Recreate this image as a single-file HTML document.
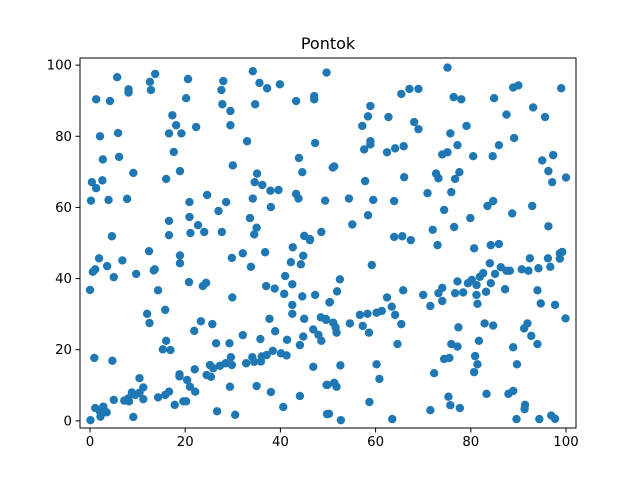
<!DOCTYPE html>
<html><head><meta charset="utf-8"><style>
body{margin:0;background:#fff;}
svg{display:block;font-family:"DejaVu Sans","Liberation Sans",sans-serif;}
</style></head><body>
<svg id="chart" width="640" height="480" xmlns="http://www.w3.org/2000/svg">
<rect width="640" height="480" fill="#fff"/>
<text x="328" y="49" font-size="16" text-anchor="middle" fill="#000">Pontok</text>
<g id="ticks"></g>
<g id="points"></g>
<rect x="80" y="58" width="496" height="370" fill="none" stroke="#000" stroke-width="1"/>
</svg>
<script>
const xTicks=[0,20,40,60,80,100];
const yTicks=[0,20,40,60,80,100];
const xs=[5.7,1.3,4.2,8.1,8.1,13.7,12.6,12.8,20.6,20.2,28,27.6,27.8,29.5,29.5,34.2,35.6,37.2,39.9,34.7,43.3,47.1,47.1,49.7,17.3,18.1,16.6,19.2,22.3,2.1,5.9,33,47.3,2.7,6.1,17.6,30,43.9,44.6,9.1,18.9,16,0.4,2.6,1.3,35.1,34.6,36.2,37.9,39.6,43.3,43.8,49.4,0.2,3.9,7.8,20.9,24.6,28.6,27,34.2,38,33.6,20.9,16.6,22.7,24,21.1,16.6,4.6,27.7,35,34.5,45,46.2,48.6,
75.1,65.4,67.1,69,76.4,78,84.9,88.9,90,99,58.9,58.4,57.2,62.7,68.1,69,79.1,75.7,87.5,93.1,95.6,89.1,58.9,58.9,57.6,62.4,64.1,65.9,77.2,74,75.1,80.5,84.6,85.9,95,97.3,96.3,97.1,100,51,51.3,57.8,66,72.7,73.2,77.6,76.7,70.9,75.9,54.4,59.5,63.9,84.7,83.5,92.9,74.4,88.7,55.1,58.4,79.9,76.5,72,96.3,63.9,65.6,67.4,
1.9,1.1,0.6,3.6,6.8,5,0,12.4,9.7,13.4,13.6,14.3,18.9,18.9,20.8,23.7,24.4,29.8,32.1,33.8,36.8,42.6,44.8,42.2,44.3,46.2,41,42.5,37,38.8,40.8,44.6,47.3,50.3,42.5,42.5,29.9,12,12.5,15.8,23.3,21.9,25.7,37.7,38.9,32.1,35.8,41.4,26.5,29.3,45,48.5,49.6,46.9,48,48.6,44.8,44.1,16,15.3,16.9,0.9,4.7,22,18.8,18.8,20.4,21,22.1,25.2,25.9,27.3,28.5,29.6,29.8,24.5,25.4,32.8,34.1,34.5,36.1,37.1,38.4,40.1,41.3,35.9,46.9,49.7,49.8,29.4,35,38,44.1,40.6,30.5,26.7,10.4,5,7.2,8,8.2,8.8,9.5,11.2,11.2,10.4,14.3,15.8,16.6,17.8,19.6,20.2,9.1,1.1,2.8,2.1,3.5,2.2,0.1,
73,80.7,84.2,85.9,59.2,52.5,51.9,50.4,49.6,51.1,51.6,51.8,54.6,56.7,58.3,57.3,58.6,60.2,61.3,62.4,63.4,64.1,65.4,65.8,64.6,70,71.5,73.2,74,74,76.7,77.2,78.4,79.4,80.2,81.2,81.9,82.6,81.2,81.4,83.2,84.2,84,85.1,86.3,87.5,88.2,87.2,90.7,92.4,92.1,94.2,96.2,96.7,98.7,99.2,98.7,94,94.7,97.7,99.9,77.4,82.9,84.7,91.2,91.9,92.7,94,88.9,81.7,75.9,77.2,74.4,75.5,80.9,81.4,80.7,72.3,89.7,52.6,60.2,60.8,49.9,51.3,51.8,58.7,50.2,52.7,63.5,71.5,75.3,75.7,77.7,83.3,87.9,88.9,91.4,91.3,89.6,94.4,96.9,97.7];
const ys=[96.6,90.4,89.9,93.2,92.3,97.5,95.3,93,96.1,90.7,95.5,93,89,87.1,83.1,98.3,95,93.5,94.6,89,89.9,91.3,90.4,97.9,85.9,83.1,80.8,80.8,82.6,80,80.9,78.6,78.1,73.5,74.2,75.6,71.8,73.9,69.9,69.7,70.2,68,67.1,67.6,65.4,69.5,67.1,66.3,64.7,64.9,63.8,62.5,61.9,61.9,62.1,62.4,61.5,63.5,61.5,59,62.5,60.1,57,57.3,56.2,55,53.1,52.8,52.2,51.9,53.1,54.3,52.4,52,51.1,53.1,
99.3,91.9,93.3,93.3,91,90.4,90.7,93.7,94.3,93.5,88.5,85.6,82.9,85.4,84,82,82.9,80.8,86.1,88.1,85.4,79.5,78.6,77.7,76.3,75.5,76.6,77.2,77.5,74.9,75.5,74.4,74.4,77.5,73.2,74.7,70.2,67.1,68.4,71.2,71.5,67.4,68.5,69.5,68.2,69.9,68,64,64.3,62.5,62.1,61.8,61.8,60.4,60.4,59.3,58.3,55.2,57.8,57,54.5,53.7,54.7,51.7,51.9,50.8,
45.7,42.6,41.9,43.5,45.1,40.4,36.8,47.7,41.3,42.3,42.6,36.7,46.5,44.3,39,37.9,38.8,45.8,47.1,43.3,47.4,48.8,46.4,44.6,44,50.8,40.7,38.4,37.9,37.2,35.7,35,35.4,33.3,32.6,30.1,34.7,30.1,27.5,31.2,28,25.3,27.2,28.7,25.2,24.1,23,22.8,21.8,21.8,28.7,29.1,28.4,25.7,24.2,22.5,23.7,21.3,22.5,20.1,19.9,17.7,16.9,14.5,13.1,12.5,11.5,9.6,8.2,15.7,14.8,15.5,16.2,17.9,15.7,12.9,12.4,16.2,17.9,16.6,18.1,18.5,19.7,19,18.4,16.7,15.2,10.1,1.9,9.6,9.8,8.1,7,3.9,1.7,2.7,12,5.9,5.7,6.3,5.5,8,7.3,9.4,6.1,7.9,6.6,7.3,8.2,4.5,5.5,5.5,1.1,3.6,4,2.6,2.4,1.2,0.2,
49.4,48.5,49.4,49.7,43.8,39.8,36.4,33.4,28.6,27.6,26.3,24.8,27.4,29.8,30.1,26.7,24.8,30.4,30.9,34.7,32.1,29.8,27.2,36.7,21.6,35.4,32.3,35.9,37.4,33.7,35.9,39.2,36.1,38.7,39.6,38.2,40.5,41.5,35.4,32.9,36.3,38.7,44.3,41.3,43.2,42.2,42.2,37,42.6,45.7,42.2,42.9,45.7,43.3,47.1,47.5,45.6,36.7,33,32.6,28.8,26.3,27.4,26.8,26,27.4,23.9,21.6,20.7,22.5,21.6,20.9,17.4,17.7,18.2,15.9,13.7,13.4,15.9,15.6,15.9,11.8,10.1,10.7,9.6,5.3,2,0.2,0.5,3,6.8,4.4,3.6,7.6,7.6,8.4,4.5,3.3,0.5,0.5,1.5,0.6];
const X0=80,X1=576,Y0=428,Y1=58,XMIN=-2.1,XMAX=102.1,YMIN=-2,YMAX=102;
function sx(v){return X0+(v-XMIN)/(XMAX-XMIN)*(X1-X0);}
function sy(v){return Y0-(v-YMIN)/(YMAX-YMIN)*(Y0-Y1);}
const NS="http://www.w3.org/2000/svg";
const tg=document.getElementById('ticks');
xTicks.forEach(t=>{
  const l=document.createElementNS(NS,'line');
  l.setAttribute('x1',sx(t));l.setAttribute('x2',sx(t));l.setAttribute('y1',Y0);l.setAttribute('y2',Y0+4.5);l.setAttribute('stroke','#000');
  
  
  tg.appendChild(l);
  const tx=document.createElementNS(NS,'text');
  tx.setAttribute('x',sx(t));tx.setAttribute('y',Y0+18);tx.setAttribute('font-size','13.3');tx.setAttribute('text-anchor','middle');
  tx.textContent=t;
  
  
  tg.appendChild(tx);
});
yTicks.forEach(t=>{
  const l=document.createElementNS(NS,'line');
  l.setAttribute('x1',X0-4.5);l.setAttribute('x2',X0);l.setAttribute('y1',sy(t));l.setAttribute('y2',sy(t));l.setAttribute('stroke','#000');
  
  
  tg.appendChild(l);
  const tx=document.createElementNS(NS,'text');
  tx.setAttribute('x',X0-8);tx.setAttribute('y',sy(t)+4.5);tx.setAttribute('font-size','13.3');tx.setAttribute('text-anchor','end');
  tx.textContent=t;
  
  
  tg.appendChild(tx);
});
const pg=document.getElementById('points');
for(let i=0;i<Math.min(xs.length,ys.length);i++){
  const c=document.createElementNS(NS,'circle');
  c.setAttribute('cx',sx(xs[i]));c.setAttribute('cy',sy(ys[i]));c.setAttribute('r','4.2');c.setAttribute('fill','#1f77b4');
  
  
  pg.appendChild(c);
}
</script>
</body></html>
